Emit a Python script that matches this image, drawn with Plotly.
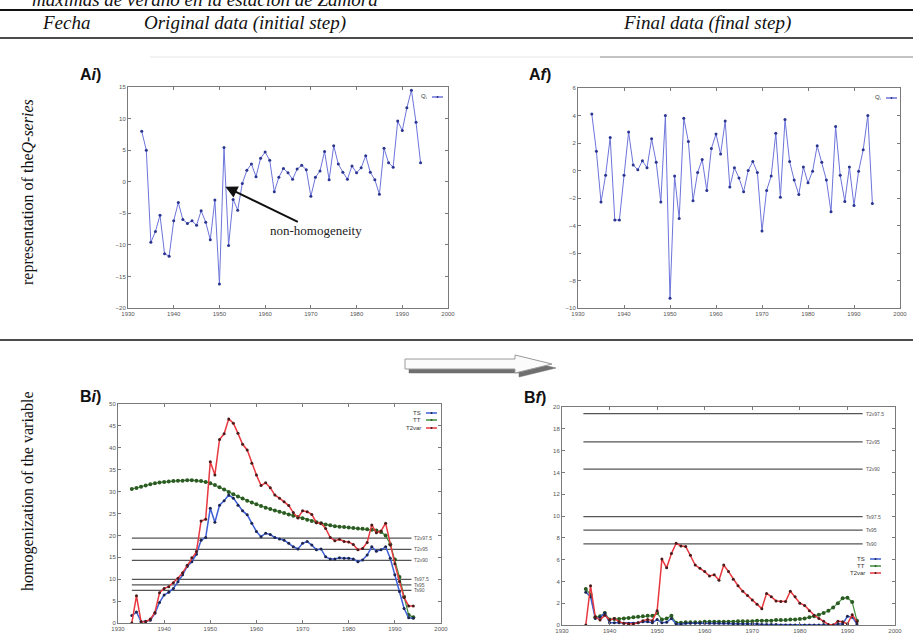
import plotly.graph_objects as go

W, H = 913, 641

# ---------------- data ----------------
years = list(range(1933, 1995))
q_original = [8.0, 5.0, -9.6, -7.9, -5.3, -11.4, -11.8, -6.2, -3.3, -6.0,
              -6.6, -6.2, -6.9, -4.6, -6.4, -9.2, -2.9, -16.2, 5.4, -10.1,
              -2.8, -4.5, -0.3, 1.8, 2.8, 0.8, 3.7, 4.7, 3.4, -1.6,
              0.7, 2.1, 1.4, 0.4, 2.0, 2.6, 1.9, -2.3, 0.7, 1.7,
              4.8, 0.3, 5.7, 2.8, 1.5, 0.4, 2.5, 1.4, 2.2, 4.1,
              1.5, 0.3, -2.0, 5.3, 3.0, 2.3, 9.6, 8.1, 11.7, 14.5,
              9.4, 3.0]
q_final = [4.1, 1.4, -2.3, -0.35, 2.4, -3.6, -3.6, -0.35, 2.8, 0.4,
           0.05, 0.7, 0.2, 2.3, 0.6, -2.3, 4.0, -9.3, -0.4, -3.5,
           3.8, 2.1, -2.2, -0.15, 0.8, -1.45, 1.6, 2.65, 1.2, 3.6,
           -1.2, 0.2, -0.55, -1.55, 0.0, 0.65, -0.15, -4.4, -1.45, -0.4,
           2.7, -1.95, 3.7, 0.65, -0.7, -1.75, 0.25, -0.9, -0.05, 1.8,
           0.6, -0.7, -3.0, 3.2, -0.35, -2.25, 0.25, -2.55, -0.05, 1.5,
           4.0, -2.4]

ts_initial = [1.7, 2.5, 0.3, 0.4, 0.6, 2.2, 4.7, 6.4, 7.0, 7.9,
              9.4, 11.0, 12.9, 14.0, 15.7, 18.9, 19.5, 26.2, 23.0, 26.9,
              27.9, 29.2, 28.5, 26.9, 25.6, 24.7, 22.8, 20.9, 19.7, 20.5,
              20.2, 19.5, 19.2, 18.9, 18.2, 17.4, 16.9, 18.2, 18.6, 17.8,
              16.7, 16.9, 15.1, 14.6, 14.6, 14.9, 14.8, 14.8, 14.6, 14.0,
              14.4, 15.5, 17.4, 16.4, 16.7, 17.4, 14.8, 11.0, 7.2, 3.3,
              1.2, 1.1]
tt_initial = [30.6, 30.8, 31.1, 31.4, 31.7, 31.9, 32.1, 32.2, 32.3, 32.4,
              32.5, 32.5, 32.6, 32.6, 32.5, 32.4, 32.2, 31.9, 31.5, 31.0,
              30.5, 29.9, 29.4, 28.9, 28.4, 27.9, 27.5, 27.1, 26.7, 26.3,
              26.0, 25.7, 25.4, 25.1, 24.8, 24.5, 24.2, 23.9, 23.6, 23.3,
              23.0, 22.8, 22.5, 22.3, 22.1, 22.0, 21.9, 21.8, 21.7, 21.6,
              21.5, 21.4, 21.3, 21.1, 20.8, 20.0, 18.0, 14.5, 10.5, 6.0,
              1.8, 1.3]
t2var_initial = [0.0, 6.2, 0.3, 0.3, 0.9, 2.4, 6.9, 7.9, 8.3, 9.2,
                 10.2, 11.5, 13.2, 14.9, 16.3, 23.3, 23.7, 36.8, 33.8, 41.9,
                 43.2, 46.6, 45.6, 43.3, 40.8, 39.5, 36.5, 33.8, 31.4, 32.0,
                 30.9, 29.2, 28.5, 27.7, 26.8, 25.2, 24.0, 25.6, 25.4, 24.8,
                 22.9, 22.8, 21.6, 19.5, 18.8, 19.1, 18.6, 18.5, 17.9, 16.7,
                 17.0, 18.4, 22.4, 20.6, 21.0, 22.8, 17.8, 13.5, 9.5, 5.8,
                 3.9, 3.9]

years_final = list(range(1935, 1993))
t2var_final = [0.0, 3.6, 0.75, 0.45, 0.9, 0.45, 0.6, 0.3, 0.15, 0.1,
               0.1, 0.2, 0.4, 0.5, 0.4, 1.3, 6.05, 5.25, 6.55, 7.5,
               7.25, 7.2, 6.4, 5.5, 5.2, 4.9, 4.5, 4.6, 4.1, 5.5,
               4.9, 4.2, 3.6, 3.1, 2.7, 2.3, 1.9, 1.5, 2.9, 2.6,
               2.2, 2.15, 2.15, 3.1, 2.6, 2.0, 1.8, 1.3, 0.9, 0.6,
               0.35, 0.05, 0.0, 0.35, 0.3, 0.1, 0.95, 0.3]
tt_final = [3.3, 2.8, 0.7, 0.8, 1.1, 0.5, 0.55, 0.55, 0.6, 0.65,
            0.7, 0.75, 0.8, 0.85, 0.85, 1.1, 0.5, 0.6, 0.85, 0.2,
            0.2, 0.25, 0.25, 0.25, 0.25, 0.3, 0.3, 0.3, 0.3, 0.3,
            0.3, 0.3, 0.35, 0.35, 0.35, 0.35, 0.4, 0.4, 0.4, 0.4,
            0.45, 0.45, 0.45, 0.5, 0.5, 0.55, 0.6, 0.7, 0.8, 0.95,
            1.1, 1.3, 1.6, 2.0, 2.45, 2.5, 2.1, 0.4]
ts_final = [3.0, 2.6, 0.6, 0.7, 1.1, 0.2, 0.2, 0.2, 0.15, 0.15,
            0.15, 0.2, 0.3, 0.3, 0.2, 0.5, 0.2, 0.25, 0.6, 0.1,
            0.1, 0.15, 0.15, 0.15, 0.15, 0.15, 0.15, 0.15, 0.15, 0.15,
            0.15, 0.1, 0.1, 0.1, 0.1, 0.1, 0.1, 0.05, 0.05, 0.05,
            0.05, 0.0, 0.0, 0.0, 0.0, 0.0, 0.0, 0.0, 0.0, 0.0,
            0.05, 0.0, 0.0, 0.1, 0.1, 0.8, 0.7, 0.1]

threshold_names = ["T2v97.5", "T2v95", "T2v90", "Ts97.5", "Ts95", "Ts90"]
threshold_values = [19.4, 16.8, 14.3, 9.95, 8.7, 7.45]

# ---------------- helpers ----------------
def px(x):
    return x / W

def py(y):
    return 1 - y / H

fig = go.Figure()

BLUEQ = "#6d74da"
BLUEQ_M = "#2a3590"
TS_C = "#3d5fd6"
TT_C = "#3f8f3a"
T2_C = "#e8383f"

# Panel A_i
fig.add_trace(go.Scatter(x=years, y=q_original, mode="lines+markers",
                         line=dict(color=BLUEQ, width=1),
                         marker=dict(size=3, color=BLUEQ_M),
                         xaxis="x", yaxis="y", showlegend=False))
# Panel A_f
fig.add_trace(go.Scatter(x=years, y=q_final, mode="lines+markers",
                         line=dict(color=BLUEQ, width=1),
                         marker=dict(size=3, color=BLUEQ_M),
                         xaxis="x2", yaxis="y2", showlegend=False))

# thresholds in B panels
for ax, ay, x0, x1 in (("x3", "y3", 1933, 1993.6), ("x4", "y4", 1934.5, 1993.2)):
    for name, v in zip(threshold_names, threshold_values):
        fig.add_trace(go.Scatter(x=[x0, x1], y=[v, v], mode="lines",
                                 line=dict(color="#555555", width=1.3),
                                 xaxis=ax, yaxis=ay, showlegend=False,
                                 hoverinfo="skip"))

# Panel B_i
fig.add_trace(go.Scatter(x=years, y=tt_initial, mode="lines+markers",
                         line=dict(color=TT_C, width=1.2),
                         marker=dict(size=4, color="#2b5a22"),
                         xaxis="x3", yaxis="y3", showlegend=False))
fig.add_trace(go.Scatter(x=years, y=ts_initial, mode="lines+markers",
                         line=dict(color=TS_C, width=1.5),
                         marker=dict(size=3, color="#1c2550"),
                         xaxis="x3", yaxis="y3", showlegend=False))
fig.add_trace(go.Scatter(x=years, y=t2var_initial, mode="lines+markers",
                         line=dict(color=T2_C, width=1.5),
                         marker=dict(size=3, color="#4a1a1a"),
                         xaxis="x3", yaxis="y3", showlegend=False))

# Panel B_f
fig.add_trace(go.Scatter(x=years_final, y=tt_final, mode="lines+markers",
                         line=dict(color=TT_C, width=1.2),
                         marker=dict(size=4, color="#2b5a22"),
                         xaxis="x4", yaxis="y4", showlegend=False))
fig.add_trace(go.Scatter(x=years_final, y=ts_final, mode="lines+markers",
                         line=dict(color=TS_C, width=1.5),
                         marker=dict(size=3, color="#1c2550"),
                         xaxis="x4", yaxis="y4", showlegend=False))
fig.add_trace(go.Scatter(x=years_final, y=t2var_final, mode="lines+markers",
                         line=dict(color=T2_C, width=1.5),
                         marker=dict(size=3, color="#4a1a1a"),
                         xaxis="x4", yaxis="y4", showlegend=False))

tickfont = dict(family="Liberation Sans, Arial", size=6, color="#555555")
common = dict(showline=True, mirror="ticks", linecolor="#7a7a7a", linewidth=1,
              ticks="inside", ticklen=3, tickcolor="#7a7a7a", showgrid=False,
              zeroline=False, tickfont=tickfont, fixedrange=True,
              automargin=False)
xcommon = dict(common, range=[1930, 2000], tickvals=list(range(1930, 2001, 10)))

fig.update_layout(
    width=W, height=H,
    margin=dict(l=0, r=0, t=0, b=0, pad=0),
    paper_bgcolor="white", plot_bgcolor="white",
    xaxis=dict(xcommon, domain=[px(128), px(448)], anchor="y"),
    yaxis=dict(common, domain=[py(308), py(87)], range=[-20, 15],
               tickvals=list(range(-20, 16, 5)), anchor="x"),
    xaxis2=dict(xcommon, domain=[px(578), px(900)], anchor="y2"),
    yaxis2=dict(common, domain=[py(308), py(88)], range=[-10, 6],
                tickvals=list(range(-10, 7, 2)), anchor="x2"),
    xaxis3=dict(xcommon, domain=[px(118), px(441)], anchor="y3"),
    yaxis3=dict(common, domain=[py(623), py(404)], range=[0, 50],
                tickvals=list(range(0, 51, 5)), anchor="x3"),
    xaxis4=dict(xcommon, domain=[px(562), px(895)], anchor="y4"),
    yaxis4=dict(common, domain=[py(625), py(407)], range=[0, 20],
                tickvals=list(range(0, 21, 2)), anchor="x4"),
    font=dict(family="Liberation Serif"),
)

ann = []
shapes = []
serif_it = dict(family="Liberation Serif", size=19, color="#111111")

def text(x, y, s, font, **kw):
    d = dict(x=px(x), y=py(y), xref="paper", yref="paper", text=s,
             showarrow=False, font=font)
    d.update(kw)
    ann.append(d)

def hline(x0, x1, y, color="#111111", width=1.5):
    shapes.append(dict(type="line", xref="paper", yref="paper",
                       x0=px(x0), x1=px(x1), y0=py(y), y1=py(y),
                       line=dict(color=color, width=width)))

# header
text(30, -1, "<i>máximas de verano en la estación de Zamora</i>", serif_it,
     xanchor="left", yanchor="middle")
hline(0, W, 10, width=2)
text(66, 23, "<i>Fecha</i>", serif_it, xanchor="center", yanchor="middle")
text(245, 23, "<i>Original data (initial step)</i>", serif_it,
     xanchor="center", yanchor="middle")
text(707, 23, "<i>Final data (final step)</i>", serif_it,
     xanchor="center", yanchor="middle")
hline(0, W, 38, width=1.5)
hline(150, 600, 57, color="#e6e6e6", width=1)
hline(600, W, 57, color="#888888", width=1)
hline(0, W, 340, width=1.5)

# row labels
side = dict(family="Liberation Serif", size=16, color="#111111")
text(28, 192, "representation of the<i>Q-series</i>", side, textangle=-90,
     xanchor="center", yanchor="middle")
text(28, 492, "homogenization of the variable", side, textangle=-90,
     xanchor="center", yanchor="middle")

# panel labels
lab = dict(family="Liberation Sans, Arial", size=16, color="#111111")
text(78, 75, "<b>A</b><b><i>i</i>)</b>", lab, xanchor="left", yanchor="middle")
text(527, 75, "<b>A</b><b><i>f</i>)</b>", lab, xanchor="left", yanchor="middle")
text(78, 396, "<b>B</b><b><i>i</i>)</b>", lab, xanchor="left", yanchor="middle")
text(522, 397, "<b>B</b><b><i>f</i>)</b>", lab, xanchor="left", yanchor="middle")

# non-homogeneity annotation
ann.append(dict(x=1951.3, y=-0.8, xref="x", yref="y", ax=1971.2, ay=-7.8,
                axref="x", ayref="y", text="non-homogeneity", showarrow=True,
                xanchor="center", yanchor="middle",
                arrowhead=2, arrowsize=1.2, arrowwidth=2, arrowcolor="#111111",
                font=dict(family="Liberation Serif", size=13, color="#222222")))

# threshold labels
small = dict(family="Liberation Sans, Arial", size=5, color="#555555")
for name, v in zip(threshold_names, threshold_values):
    ann.append(dict(x=1993.8, y=v, xref="x3", yref="y3", text=name,
                    showarrow=False, xanchor="left", yanchor="middle", font=small))
    ann.append(dict(x=1993.4, y=v, xref="x4", yref="y4", text=name,
                    showarrow=False, xanchor="left", yanchor="middle", font=small))

# mini legends (text right-aligned, sample on the right)
legf = dict(family="Liberation Sans, Arial", size=6, color="#333333")

def legend_item(xr, y, label, color, mcolor):
    text(xr, y, label, legf, xanchor="right", yanchor="middle")
    shapes.append(dict(type="line", xref="paper", yref="paper",
                       x0=px(xr + 3), x1=px(xr + 14), y0=py(y), y1=py(y),
                       line=dict(color=color, width=1.5)))
    shapes.append(dict(type="circle", xref="paper", yref="paper",
                       x0=px(xr + 7.5), x1=px(xr + 9.5), y0=py(y - 1), y1=py(y + 1),
                       fillcolor=mcolor, line=dict(color=mcolor, width=0)))

legend_item(429, 97, "Q<sub>i</sub>", BLUEQ, BLUEQ_M)
legend_item(883, 98, "Q<sub>i</sub>", BLUEQ, BLUEQ_M)
legend_item(423, 413, "TS", TS_C, "#1c2550")
legend_item(423, 420, "TT", TT_C, "#2b5a22")
legend_item(423, 428, "T2var", T2_C, "#4a1a1a")
legend_item(867, 559, "TS", TS_C, "#1c2550")
legend_item(867, 566, "TT", TT_C, "#2b5a22")
legend_item(867, 573, "T2var", T2_C, "#4a1a1a")

# big block arrow (shadow + white arrow)
def arrow_path(dx, dy):
    pts = [(405, 359), (515, 359), (515, 355), (552, 364), (515, 373),
           (515, 369), (405, 369)]
    s = "M " + " L ".join(f"{px(x + dx)},{py(y + dy)}" for x, y in pts) + " Z"
    return s

shapes.append(dict(type="path", xref="paper", yref="paper", path=arrow_path(4, 4),
                   fillcolor="#6f6f6f", line=dict(color="#6f6f6f", width=0.5)))
shapes.append(dict(type="path", xref="paper", yref="paper", path=arrow_path(0, 0),
                   fillcolor="#fbfbfb", line=dict(color="#9a9a9a", width=1)))

fig.update_layout(annotations=ann, shapes=shapes)

fig.write_html("out.html", config={"displayModeBar": False},
               post_script="document.body.style.margin='0px';"
                           "document.body.style.overflow='hidden';")
